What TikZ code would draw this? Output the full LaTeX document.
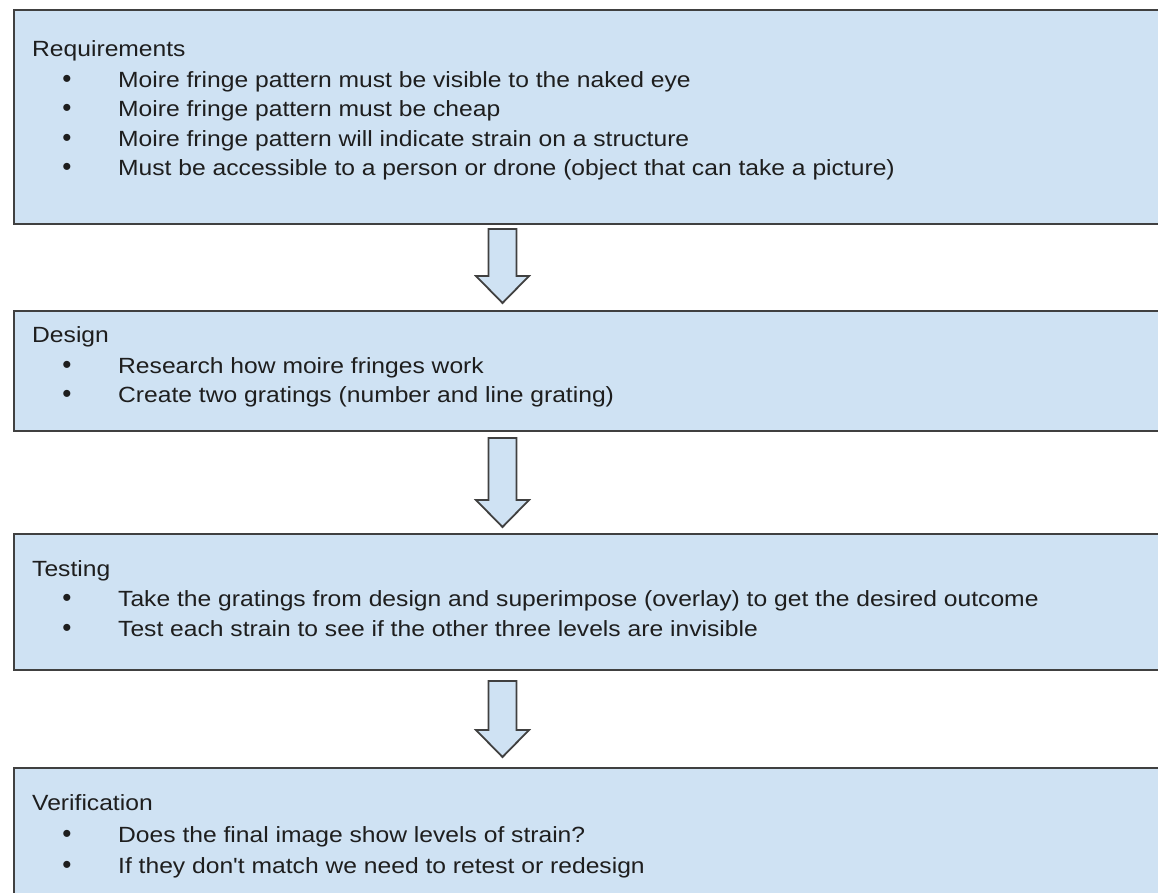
\documentclass[tikz,border=0pt]{standalone}
\usepackage{fontspec}
\newfontfamily\lsans{Liberation Sans}[FakeStretch=1.12]
\newfontfamily\bulfont{Liberation Sans}
\usetikzlibrary{calc}
\definecolor{boxfill}{HTML}{CFE2F3}
\definecolor{boxline}{HTML}{404040}
\definecolor{txt}{HTML}{1E1E1E}
\tikzset{
  box/.style={draw=boxline, fill=boxfill, line width=2pt, rectangle, anchor=north west, inner sep=0pt, minimum width=1170pt},
  title/.style={anchor=base west, font=\lsans\fontsize{22}{26}\selectfont, text=txt, inner sep=0pt},
  item/.style={anchor=base west, font=\lsans\fontsize{22}{26}\selectfont, text=txt, inner sep=0pt},
  bul/.style={anchor=base, font=\bulfont\fontsize{26}{26}\selectfont, text=txt, inner sep=0pt},
  barrow/.style={draw=boxline, fill=boxfill, line width=1.8pt, line join=miter}
}
\newcommand{\blockarrow}[2]{%
  \draw[barrow] let \p1=(#1), \p2=(#2) in
    (\x1-14pt,\y1) -- (\x1+14pt,\y1) -- (\x1+14pt,\y2+27pt) -- (\x1+26.5pt,\y2+27pt)
    -- (\x2,\y2) -- (\x1-26.5pt,\y2+27pt) -- (\x1-14pt,\y2+27pt) -- cycle;}
\begin{document}
\begin{tikzpicture}[x=1pt,y=-1pt]
\useasboundingbox (0,0) rectangle (1158,892);
\clip (0,0) rectangle (1158,892);

% boxes
\node[box, minimum height=214pt] (req) at (13,9) {};
\node[box, minimum height=120pt] (des) at (13,310) {};
\node[box, minimum height=136pt] (tst) at (13,533) {};
\node[box, minimum height=160pt] (ver) at (13,767) {};

% Requirements
\node[title] (reqT) at (32,56) {Requirements};
\node[bul] (reqB1) at (67,87) {•};
\node[item] (reqI1) at (118,87) {Moire fringe pattern must be visible to the naked eye};
\node[bul] (reqB2) at (67,116.5) {•};
\node[item] (reqI2) at (118,116.5) {Moire fringe pattern must be cheap};
\node[bul] (reqB3) at (67,146) {•};
\node[item] (reqI3) at (118,146) {Moire fringe pattern will indicate strain on a structure};
\node[bul] (reqB4) at (67,175.5) {•};
\node[item] (reqI4) at (118,175.5) {Must be accessible to a person or drone (object that can take a picture)};

% Design
\node[title] (desT) at (32,342) {Design};
\node[bul] (desB1) at (67,373) {•};
\node[item] (desI1) at (118,373) {Research how moire fringes work};
\node[bul] (desB2) at (67,402) {•};
\node[item] (desI2) at (118,402) {Create two gratings (number and line grating)};

% Testing
\node[title] (tstT) at (32,576) {Testing};
\node[bul] (tstB1) at (67,606) {•};
\node[item] (tstI1) at (118,606) {Take the gratings from design and superimpose (overlay) to get the desired outcome};
\node[bul] (tstB2) at (67,636) {•};
\node[item] (tstI2) at (118,636) {Test each strain to see if the other three levels are invisible};

% Verification
\node[title] (verT) at (32,810) {Verification};
\node[bul] (verB1) at (67,842) {•};
\node[item] (verI1) at (118,842) {Does the final image show levels of strain?};
\node[bul] (verB2) at (67,873) {•};
\node[item] (verI2) at (118,873) {If they don't match we need to retest or redesign};

% arrows
\coordinate (a1s) at (502.5,229);
\coordinate (a1e) at (502.5,303);
\coordinate (a2s) at (502.5,438);
\coordinate (a2e) at (502.5,527);
\coordinate (a3s) at (502.5,681);
\coordinate (a3e) at (502.5,757);
\blockarrow{a1s}{a1e}
\blockarrow{a2s}{a2e}
\blockarrow{a3s}{a3e}
\end{tikzpicture}
\end{document}
